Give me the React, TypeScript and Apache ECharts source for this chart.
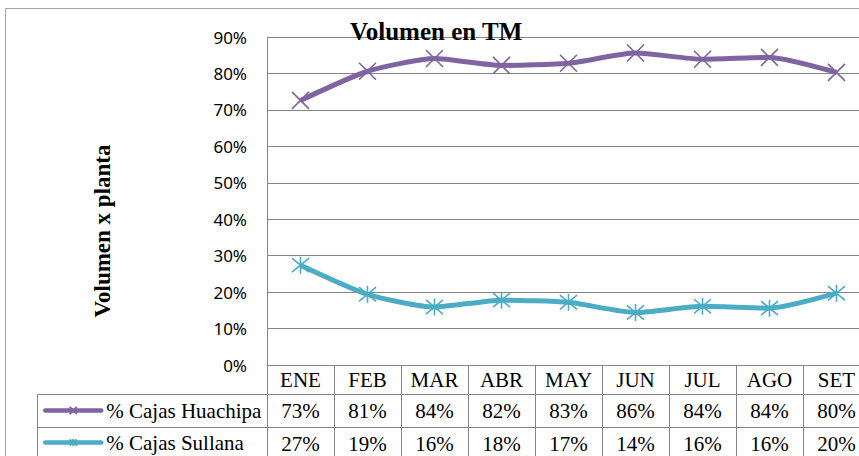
import React, { useEffect, useRef } from "react";
import * as echarts from "echarts";

// ---- data ----
const categories = ["ENE", "FEB", "MAR", "ABR", "MAY", "JUN", "JUL", "AGO", "SET"];
const seriesNames = ["% Cajas Huachipa", "% Cajas Sullana"];
const huachipa = [72.6, 80.6, 84.1, 82.2, 82.8, 85.6, 83.9, 84.4, 80.3];
const sullana = [27.4, 19.4, 15.9, 17.8, 17.2, 14.4, 16.1, 15.6, 19.7];
const tableHuachipa = [73, 81, 84, 82, 83, 86, 84, 84, 80];
const tableSullana = [27, 19, 16, 18, 17, 14, 16, 16, 20];
const yMin = 0;
const yMax = 90;
const yStep = 10;
const chartTitle = "Volumen en TM";
const yTitle = "Volumen x planta";

const PURPLE = "#8064A2";
const TEAL = "#4BACC6";
const GREY = "#858585";
const SERIF = "'Liberation Serif', 'Times New Roman', serif";

const X_PATH = "path://M0,0 L10,10 M10,0 L0,10";
const STAR_PATH = "path://M0,0 L10,10 M10,0 L0,10 M5,-1 L5,11";

function tableAxis(offset: number, labels: string[], tickLen: number, margin: number) {
  return {
    type: "category",
    data: categories,
    position: "bottom",
    offset,
    boundaryGap: true,
    axisLine: { show: true, onZero: false, lineStyle: { color: GREY, width: 1 } },
    axisTick: { show: true, interval: 0, length: tickLen, lineStyle: { color: GREY, width: 1 } },
    axisLabel: {
      interval: 0,
      margin,
      verticalAlign: "middle",
      fontFamily: SERIF,
      fontSize: 21,
      color: "#000",
      formatter: (_v: string, i: number) => labels[i],
    },
    splitLine: { show: false },
  };
}

export default function App() {
  const ref = useRef<HTMLDivElement>(null);

  useEffect(() => {
    if (!ref.current) return;
    const chart = echarts.init(ref.current, null, { renderer: "svg" });
    const legendText = { fontFamily: SERIF, fontSize: 21, color: "#000" };
    chart.setOption({
      animation: false,
      backgroundColor: "#fff",
      title: {
        text: chartTitle,
        left: 350,
        top: 19,
        padding: 0,
        textStyle: { fontFamily: SERIF, fontWeight: "bold", fontSize: 25, color: "#000" },
      },
      grid: { left: 267, top: 37, right: 10, bottom: 105, containLabel: false },
      xAxis: [
        tableAxis(0, categories, 29, 14.5),
        tableAxis(29, tableHuachipa.map((v) => v + "%"), 33, 16.5),
        tableAxis(62, tableSullana.map((v) => v + "%"), 33, 16.5),
      ],
      yAxis: {
        type: "value",
        min: yMin,
        max: yMax,
        interval: yStep,
        axisLine: { show: true, lineStyle: { color: GREY, width: 1 } },
        axisTick: { show: false },
        splitLine: { show: true, lineStyle: { color: GREY, width: 1 } },
        axisLabel: {
          formatter: "{value}%",
          margin: 20,
          fontFamily: "'Noto Sans', sans-serif",
          fontSize: 17,
          color: "#000",
        },
      },
      legend: [
        {
          data: [seriesNames[0]],
          orient: "vertical",
          left: 43,
          top: 400,
          padding: 0,
          itemWidth: 56,
          itemHeight: 9,
          selectedMode: false,
          textStyle: legendText,
          lineStyle: { width: 4.5, cap: "round" },
        },
        {
          data: [seriesNames[1]],
          orient: "vertical",
          left: 43,
          top: 432,
          padding: 0,
          itemWidth: 56,
          itemHeight: 9,
          selectedMode: false,
          textStyle: legendText,
          lineStyle: { width: 4.5, cap: "round" },
        },
      ],
      series: [
        {
          name: seriesNames[0],
          type: "line",
          data: huachipa,
          xAxisIndex: 0,
          smooth: 0.2,
          symbol: X_PATH,
          symbolSize: 17,
          lineStyle: { width: 5, color: PURPLE },
          itemStyle: { color: PURPLE, borderColor: PURPLE, borderWidth: 1.6 },
          emphasis: { disabled: true },
          z: 3,
        },
        {
          name: seriesNames[1],
          type: "line",
          data: sullana,
          xAxisIndex: 0,
          smooth: 0.2,
          symbol: STAR_PATH,
          symbolSize: 17,
          lineStyle: { width: 5, color: TEAL },
          itemStyle: { color: TEAL, borderColor: TEAL, borderWidth: 1.6 },
          emphasis: { disabled: true },
          z: 3,
        },
      ],
      graphic: [
        {
          type: "rect",
          z: -10,
          silent: true,
          shape: { x: 5.5, y: 8.5, width: 1000, height: 1000 },
          style: { fill: "none", stroke: "#a6a6a6", lineWidth: 1 },
        },
        {
          type: "line",
          silent: true,
          shape: { x1: 37.5, y1: 394.5, x2: 267, y2: 394.5 },
          style: { stroke: GREY, lineWidth: 1 },
        },
        {
          type: "line",
          silent: true,
          shape: { x1: 37.5, y1: 427.5, x2: 267, y2: 427.5 },
          style: { stroke: GREY, lineWidth: 1 },
        },
        {
          type: "line",
          silent: true,
          shape: { x1: 37.5, y1: 394.5, x2: 37.5, y2: 470 },
          style: { stroke: GREY, lineWidth: 1 },
        },
        {
          type: "text",
          silent: true,
          x: 102,
          y: 231,
          rotation: Math.PI / 2,
          style: {
            text: yTitle,
            fontFamily: SERIF,
            fontWeight: "bold",
            fontSize: 23,
            fill: "#000",
            align: "center",
            verticalAlign: "middle",
          },
        },
      ],
    });
    return () => chart.dispose();
  }, []);

  return (
    <div style={{ position: "fixed", left: 0, top: 0, width: 859, height: 456, overflow: "hidden", background: "#fff" }}>
      <div ref={ref} style={{ width: 880, height: 470 }} />
    </div>
  );
}
